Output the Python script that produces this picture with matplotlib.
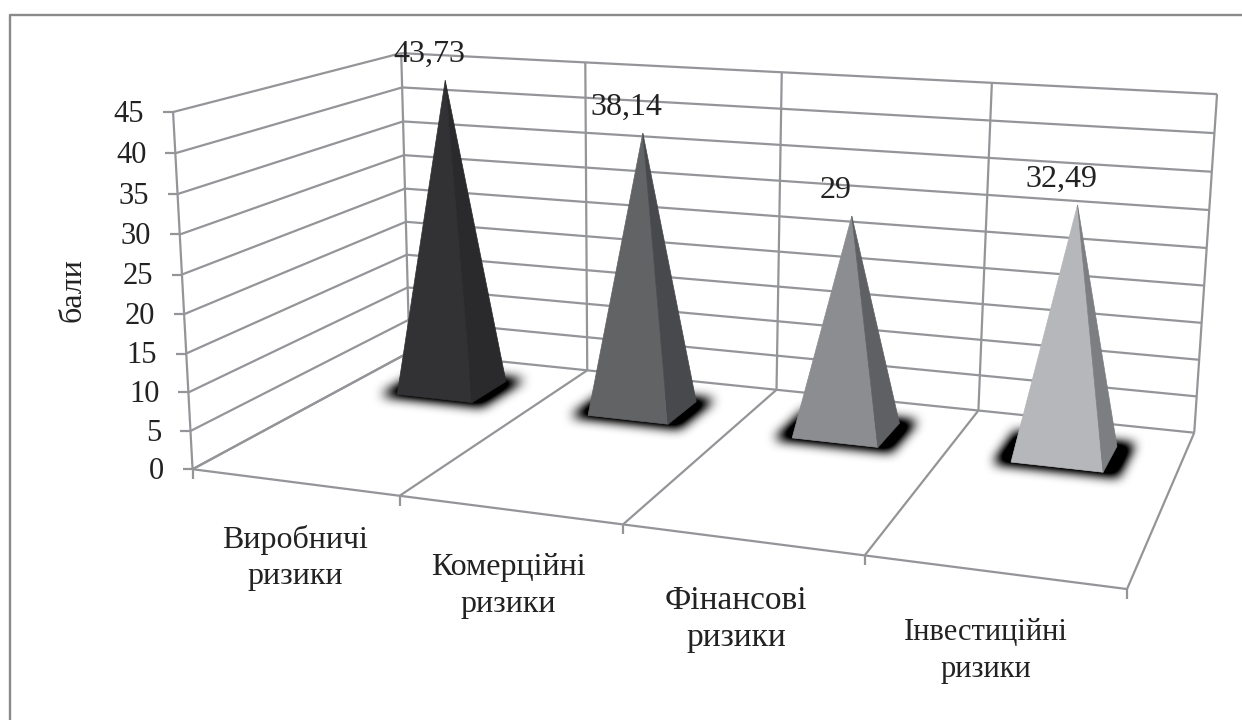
import numpy as np
import matplotlib
matplotlib.use("Agg")
import matplotlib.pyplot as plt
from matplotlib.patches import Polygon
from matplotlib.path import Path

plt.rcParams['font.family'] = ['Liberation Serif', 'DejaVu Serif']

categories = ["Виробничі\nризики", "Комерційні\nризики", "Фінансові\nризики", "Інвестиційні\nризики"]
values = [43.73, 38.14, 29, 32.49]
value_labels = ["43,73", "38,14", "29", "32,49"]
y_ticks = [0, 5, 10, 15, 20, 25, 30, 35, 40, 45]
y_label = "бали"

front_colors = ["#323234", "#626365", "#8c8d90", "#b6b7ba"]
side_colors = ["#2a2a2c", "#48494c", "#5f6063", "#7d7e81"]
line_color = "#949599"

# points of the 3d box on the picture: (category, depth, value) -> pixel
box_3d = [(0, 0, 0), (1, 0, 0), (2, 0, 0), (3, 0, 0), (4, 0, 0),
          (0, 1, 0), (1, 1, 0), (2, 1, 0), (3, 1, 0), (4, 1, 0),
          (0, 1, 45), (1, 1, 45), (2, 1, 45), (3, 1, 45), (4, 1, 45),
          (0, 0, 45)]
box_px = [(193, 468), (400, 495), (623, 524), (865, 556), (1127, 590),
          (410, 354), (585, 370), (777, 390), (978, 410), (1195, 432),
          (400, 52), (590, 62), (780, 73), (991, 83), (1217, 94),
          (172, 113)]


def fit_camera(pts3, pts2):
    rows = []
    for (a, b, c), (x, y) in zip(pts3, pts2):
        rows.append([a, b, c, 1, 0, 0, 0, 0, -x * a, -x * b, -x * c, -x])
        rows.append([0, 0, 0, 0, a, b, c, 1, -y * a, -y * b, -y * c, -y])
    return np.linalg.svd(np.array(rows, float))[2][-1].reshape(3, 4)


cam = fit_camera(box_3d, box_px)


def pr(a, b, c):
    p = cam @ np.array([a, b, c, 1.0])
    return p[0] / p[2], p[1] / p[2]


fig = plt.figure(figsize=(12.42, 7.2), dpi=100)
ax = fig.add_axes([0, 0, 1, 1])
ax.axis("off")

# frame, only top and left are on the picture
ax.plot([10, 10, 1242], [720, 15, 15], color="#8a8a8a", lw=1.7)


def seg(p, q, lw=1.6):
    ax.plot([p[0], q[0]], [p[1], q[1]], color=line_color, lw=lw, solid_capstyle="butt", zorder=2)


# gridlines on the two walls
for v in y_ticks:
    seg(pr(0, 0, v), pr(0, 1, v))
    seg(pr(0, 1, v), pr(4, 1, v))
    x, y = pr(0, 0, v)
    seg((x - 10, y), (x, y))
    ax.text(x - 29, y + 2, str(v), ha="right", va="center", fontsize=22, color="#222222")

# vertical edges and category dividers
for i in range(5):
    seg(pr(i, 1, 0), pr(i, 1, 45))
    seg(pr(i, 0, 0), pr(i, 1, 0))
    x, y = pr(i, 0, 0)
    seg((x, y), (x, y + 10))
seg(pr(0, 0, 0), pr(0, 0, 45))
seg(pr(0, 0, 0), pr(4, 0, 0))

half_w = 0.2
d_front = 0.65
d_back = 0.84
d_mid = 0.745

# soft shadows on the floor: blurred mask of the base quads
gx, gy = np.meshgrid(np.arange(1242) + 0.5, np.arange(720) + 0.5)
grid = np.column_stack([gx.ravel(), gy.ravel()])
mask = np.zeros(gx.shape)
for i in range(len(values)):
    c = i + 0.5
    quad = [pr(c - half_w - 0.07, d_front - 0.02, 0), pr(c + half_w + 0.07, d_front - 0.02, 0),
            pr(c + half_w + 0.07, d_back + 0.03, 0), pr(c - half_w - 0.07, d_back + 0.03, 0)]
    mask[Path(quad).contains_points(grid).reshape(gx.shape)] = 1
kernel = np.ones(11) / 11
for _ in range(3):
    mask = np.apply_along_axis(np.convolve, 0, mask, kernel, mode="same")
    mask = np.apply_along_axis(np.convolve, 1, mask, kernel, mode="same")
shadow = np.zeros(gx.shape + (4,))
shadow[..., 3] = np.clip(mask * 1.5, 0, 1)
ax.imshow(shadow, extent=(0, 1242, 720, 0), aspect="auto", interpolation="bilinear", zorder=3)

for i, v in enumerate(values):
    c = i + 0.5
    fl = pr(c - half_w, d_front, 0)
    fr = pr(c + half_w, d_front, 0)
    br = pr(c + half_w, d_back, 0)
    top = pr(c, d_mid, v)
    ax.add_patch(Polygon([fl, fr, top], closed=True, fc=front_colors[i], ec=front_colors[i], lw=0.5, zorder=4))
    ax.add_patch(Polygon([fr, br, top], closed=True, fc=side_colors[i], ec=side_colors[i], lw=0.5, zorder=4))
    ax.text(top[0] - 16, top[1] - 26, value_labels[i], ha="center", va="center", fontsize=23, color="#222222", zorder=5)

label_pos = [(295, 558), (508, 586), (736, 619), (986, 651)]
label_size = [23, 23, 24, 22]
for (x, y), s, fs in zip(label_pos, categories, label_size):
    ax.text(x, y, s, ha="center", va="center", fontsize=fs, color="#222222", linespacing=1.34 * 23 / fs)

ax.text(73, 290, y_label, rotation=90, ha="center", va="center", fontsize=23, color="#222222")

ax.set_xlim(0, 1242)
ax.set_ylim(720, 0)
fig.savefig("out.png", dpi=100)
